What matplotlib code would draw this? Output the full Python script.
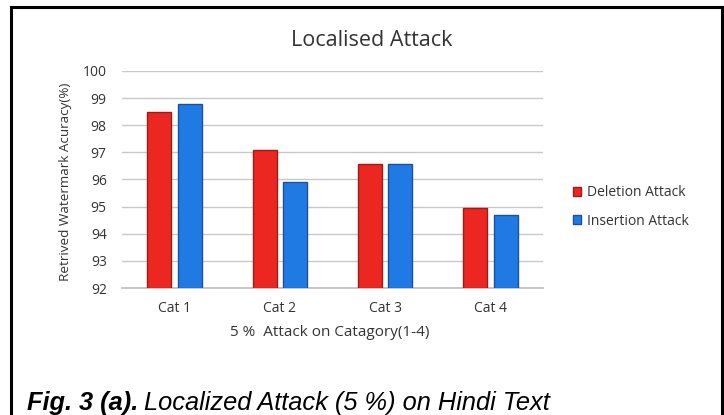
import numpy as np
import matplotlib
matplotlib.use("Agg")
import matplotlib.pyplot as plt

# data
categories = ["Cat 1", "Cat 2", "Cat 3", "Cat 4"]
deletion = [98.48, 97.1, 96.57, 94.95]
insertion = [98.8, 95.9, 96.57, 94.68]
series_names = ["Deletion Attack", "Insertion Attack"]
y_ticks = [92, 93, 94, 95, 96, 97, 98, 99, 100]

W, H = 724, 415
fig = plt.figure(figsize=(W / 100, H / 100), dpi=100)
fig.patch.set_facecolor("white")

chart_font = "Open Sans"
txt_col = "#333333"

# plot area in pixel coordinates
x0, x1, ytop, ybot = 122, 543, 71, 288
ax = fig.add_axes([x0 / W, 1 - ybot / H, (x1 - x0) / W, (ybot - ytop) / H])

x = np.arange(len(categories))
bw = 0.23
off = 0.145
ax.bar(x - off, [v - 92 for v in deletion], bw, bottom=92, color="#EC2722",
       edgecolor="#A01A16", linewidth=1.0, zorder=3, label=series_names[0])
ax.bar(x + off, [v - 92 for v in insertion], bw, bottom=92, color="#1F7BE3",
       edgecolor="#1F4F9C", linewidth=1.0, zorder=3, label=series_names[1])

ax.set_xlim(-0.5, len(categories) - 0.5)
ax.set_ylim(92, 100)
ax.set_yticks(y_ticks)
ax.set_xticks(x)
ax.set_xticklabels(categories)
ax.yaxis.grid(True, color="#C8C8C8", linewidth=1.0, zorder=0)
for s in ["top", "right", "left"]:
    ax.spines[s].set_visible(False)
ax.spines["bottom"].set_color("#BFBFBF")
ax.spines["bottom"].set_linewidth(1.2)
ax.tick_params(axis="both", length=0, labelsize=10, labelcolor=txt_col)
ax.tick_params(axis="y", pad=11)
ax.tick_params(axis="x", pad=9)
for lab in ax.get_xticklabels() + ax.get_yticklabels():
    lab.set_fontfamily(chart_font)

fig.text(372 / W, 1 - 40 / H, "Localised Attack", ha="center", va="center",
         fontsize=15.5, color=txt_col, family=chart_font)
fig.text(66 / W, 1 - 182 / H, "Retrived Watermark Acuracy(%)", ha="center",
         va="center", rotation=90, fontsize=9.7, color=txt_col, family=chart_font)
fig.text(330 / W, 1 - 332 / H, "5 %  Attack on Catagory(1-4)", ha="center",
         va="center", fontsize=11, color=txt_col, family=chart_font)

leg = fig.legend(loc="center left", bbox_to_anchor=(560 / W, 1 - 207 / H),
                 frameon=False, handlelength=0.6, handleheight=0.6,
                 handletextpad=0.45, labelspacing=0.95,
                 prop={"family": chart_font, "size": 10})
for t in leg.get_texts():
    t.set_color(txt_col)

# outer frame, open at the bottom
fr = dict(color="black", lw=2.2, transform=fig.transFigure)
fig.add_artist(plt.Line2D([11 / W, 11 / W], [0, 1 - 7 / H], **fr))
fig.add_artist(plt.Line2D([11 / W, 721.5 / W], [1 - 7 / H, 1 - 7 / H], **fr))
fig.add_artist(plt.Line2D([721.5 / W, 721.5 / W], [0, 1 - 7 / H], **fr))

# caption
cap_y = 1 - 410 / H
t1 = fig.text(27 / W, cap_y, "Fig. 3 (a).", ha="left", va="baseline", fontsize=18.3,
              style="italic", weight="bold", family="Liberation Sans")
fig.canvas.draw()
bb = t1.get_window_extent()
fig.text((bb.x1 + 6) / W, cap_y, "Localized Attack (5 %) on Hindi Text", ha="left",
         va="baseline", fontsize=18.3, style="italic", family="Liberation Sans")

fig.savefig("out.png", dpi=100)
